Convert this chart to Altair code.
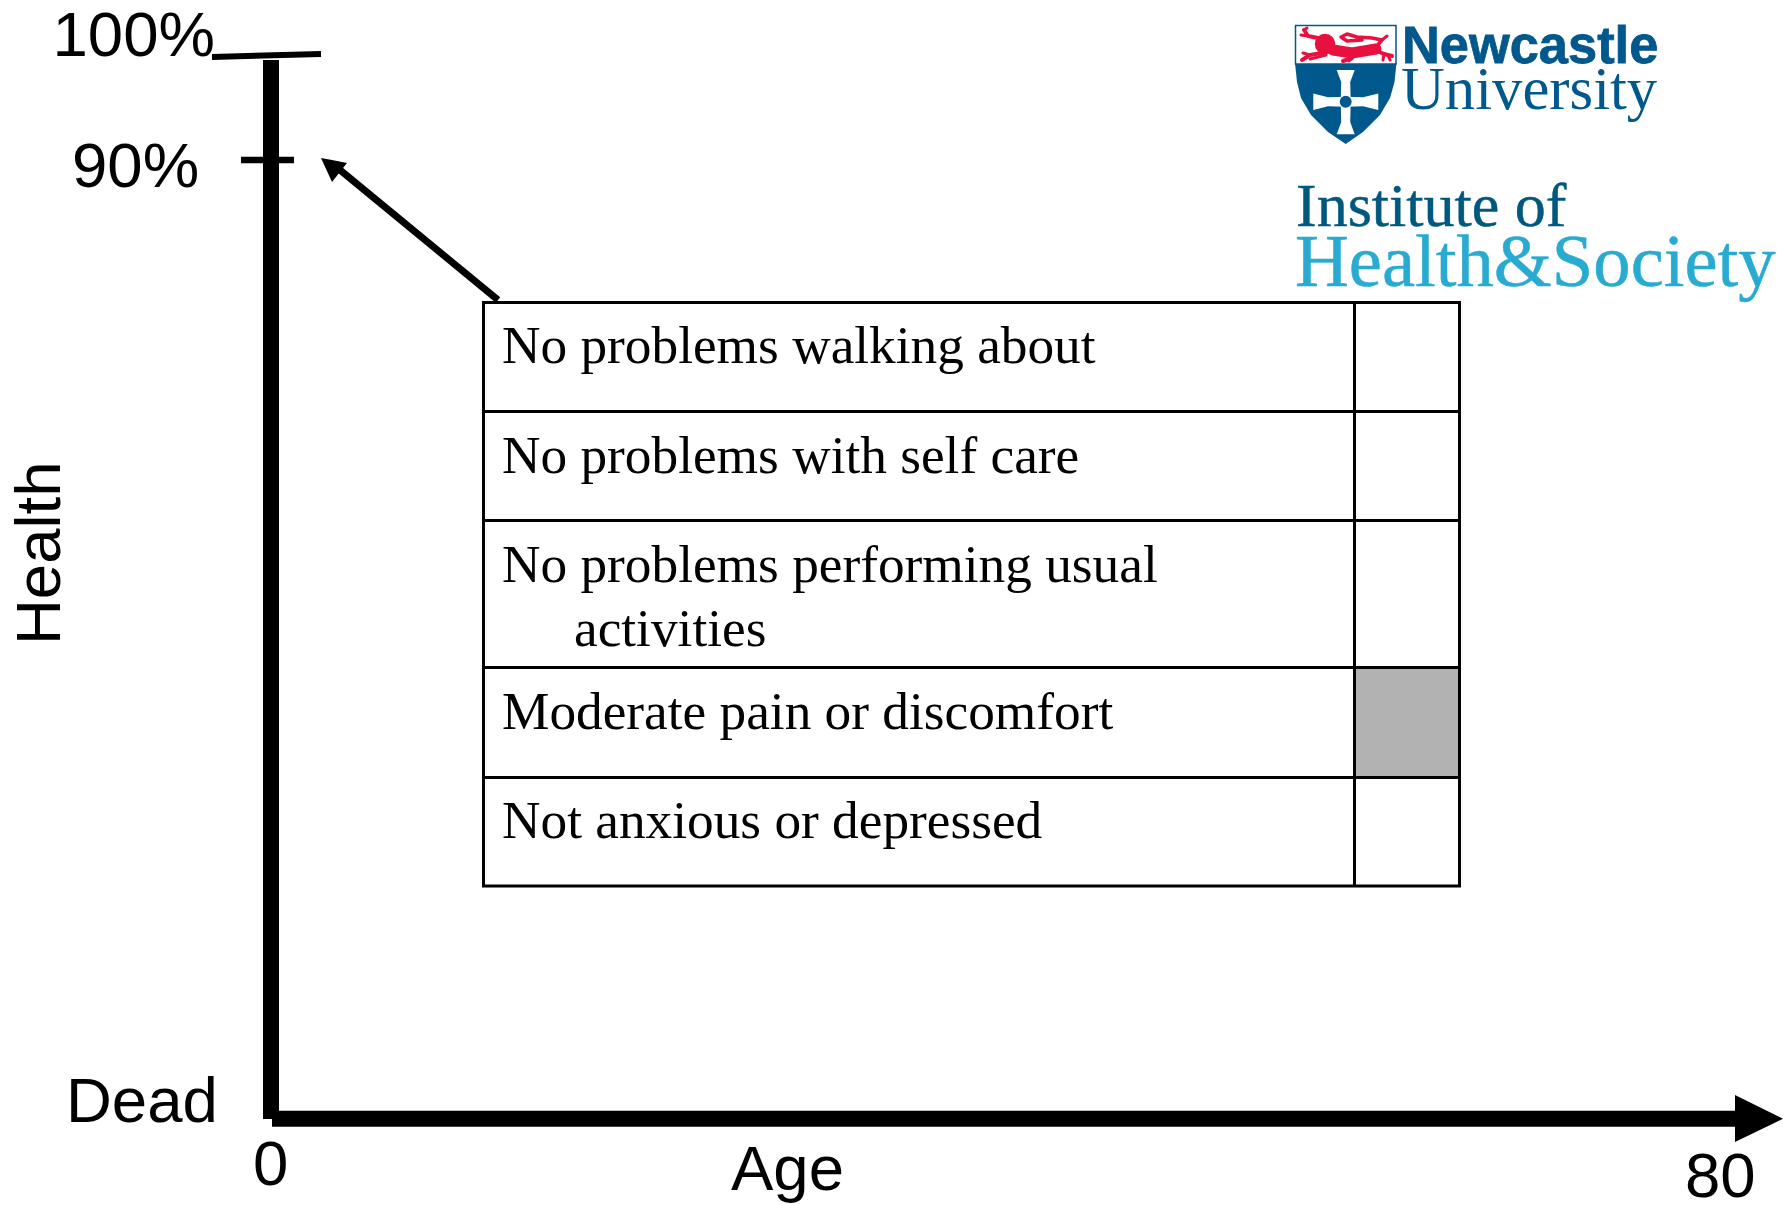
import altair as alt
import pandas as pd

# Reference picture coordinates are used as the chart's own schematic units.
X_DOMAIN = [8, 1784]
Y_DOMAIN = [1205, 8]
xs = alt.Scale(domain=X_DOMAIN, nice=False, zero=False)
ys = alt.Scale(domain=Y_DOMAIN, nice=False, zero=False)

# ---- table
table_rows = ["No problems walking about", "No problems with self care",
              "No problems performing usual", "activities",
              "Moderate pain or discomfort", "Not anxious or depressed"]
table_text_x = [502, 502, 502, 574, 502, 502]
table_text_y = [363, 472.5, 582, 646, 729, 838]
row_lines_y = [302.5, 411.5, 520.5, 667.5, 777.5, 886]
col_lines_x = [483.5, 1354.5, 1459.5]
shaded_cell = dict(x=1354.5, x2=1459.5, y=667.5, y2=777.5)

# ---- axes
segments = pd.DataFrame([
    dict(x=271, x2=271, y=60, y2=1119, w=16),          # health axis
    dict(x=272, x2=1736, y=1118.7, y2=1118.7, w=16),   # age axis
    dict(x=212, x2=321, y=57, y2=54, w=6),             # 100% tick
    dict(x=241, x2=294, y=160, y2=160, w=6.5),         # 90% tick
    dict(x=498, x2=340, y=300, y2=170, w=7),           # arrow shaft
])

sans_labels = ["100%", "90%", "Dead", "0", "Age", "80"]
sans_x = [52.5, 72, 66, 253, 731, 1685]
sans_y = [56, 187, 1122, 1185, 1190, 1197]


def X(f="x"):
    return alt.X(f"{f}:Q", scale=xs, axis=None)


def Y(f="y"):
    return alt.Y(f"{f}:Q", scale=ys, axis=None)


def rules(df):
    return alt.Chart(df).mark_rule(color="black").encode(
        x=X(), x2="x2:Q", y=Y(), y2="y2:Q",
        strokeWidth=alt.StrokeWidth("w:Q", scale=None))


def area_v(x, y, y2, color):
    d = pd.DataFrame(dict(x=x, y=y, y2=y2))
    return alt.Chart(d).mark_area(color=color, opacity=1, interpolate="linear").encode(
        x=X(), y=Y(), y2="y2:Q")


def area_h(y, x, x2, color):
    d = pd.DataFrame(dict(y=y, x=x, x2=x2))
    return alt.Chart(d).mark_area(color=color, opacity=1, orient="horizontal", interpolate="linear").encode(
        y=Y(), x=X(), x2="x2:Q")


def texts(labels, x, y, size, font, color="black", **kw):
    d = pd.DataFrame(dict(t=labels, x=x, y=y))
    return alt.Chart(d).mark_text(align="left", baseline="alphabetic", fontSize=size,
                                  font=font, color=color, **kw).encode(
        x=X(), y=Y(), text="t:N")


def poly(points, width, color):
    d = pd.DataFrame(dict(x=[p[0] for p in points], y=[p[1] for p in points],
                          i=list(range(len(points)))))
    return alt.Chart(d).mark_line(color=color, strokeWidth=width, strokeCap="round",
                                  strokeJoin="round").encode(
        x=X(), y=Y(), order="i:Q")


# ---- arrow heads
age_head = area_v([1735, 1783], [1095, 1118.7], [1142, 1118.7], "black")
pointer_head = area_v([321, 332, 347], [158, 160, 163], [158, 182, 163], "black")

# ---- table marks
shade = alt.Chart(pd.DataFrame([shaded_cell])).mark_rect(color="#b2b2b2").encode(
    x=X(), x2="x2:Q", y=Y(), y2="y2:Q")
h_lines = pd.DataFrame(dict(x=col_lines_x[0] - 1.5, x2=col_lines_x[-1] + 1.5,
                            y=row_lines_y, y2=row_lines_y, w=3))
v_lines = pd.DataFrame(dict(x=col_lines_x, x2=col_lines_x,
                            y=row_lines_y[0], y2=row_lines_y[-1], w=3))

# ---- logo
BLUE = "#00588c"
RED = "#e8103f"
shield_x = [1295, 1297, 1301, 1311, 1328, 1345.7, 1363, 1380, 1390, 1394.5, 1396.5]
shield_bottom = [63, 82, 98, 115, 132, 144, 132, 115, 98, 82, 63]
shield = area_v(shield_x, [63] * len(shield_x), shield_bottom, BLUE)
band = alt.Chart(pd.DataFrame([dict(x=1295.5, x2=1396, y=25.5, y2=64)])).mark_rect(
    color="white", stroke=BLUE, strokeWidth=1.5).encode(x=X(), x2="x2:Q", y=Y(), y2="y2:Q")
cross_y = [70, 82, 101.7, 122, 134.3]
cross_half = [9, 4.5, 5, 4.5, 9]
cross_v = area_h(cross_y, [1345.7 - h for h in cross_half], [1345.7 + h for h in cross_half], "white")
arm_x = [1313.3, 1328, 1345.7, 1363, 1378.3]
arm_half = [8.3, 4.5, 5, 4.5, 8.3]
cross_h = area_v(arm_x, [101.7 - h for h in arm_half], [101.7 + h for h in arm_half], "white")
boss = alt.Chart(pd.DataFrame(dict(x=[1345.7], y=[101.7]))).mark_point(
    filled=True, shape="circle", size=141, color=BLUE, opacity=1).encode(x=X(), y=Y())
lion_head = alt.Chart(pd.DataFrame(dict(x=[1325], y=[44]))).mark_point(
    filled=True, shape="circle", size=420, color=RED, opacity=1).encode(x=X(), y=Y())
lion_parts = [
    ([(1333, 50), (1352, 53), (1376, 49)], 11),
    ([(1376, 47), (1382, 40), (1372, 38), (1357, 37), (1347, 34), (1341, 37), (1347, 41), (1362, 40)], 3.5),
    ([(1382, 40), (1387, 36)], 3),
    ([(1318, 38), (1308, 36), (1304, 30)], 4),
    ([(1308, 36), (1301, 35)], 3),
    ([(1304, 30), (1307, 28)], 3),
    ([(1322, 53), (1310, 55), (1302, 60)], 4),
    ([(1310, 55), (1303, 53)], 3),
    ([(1326, 55), (1310, 59)], 3),
    ([(1347, 54), (1352, 58), (1343, 61)], 4),
    ([(1352, 58), (1349, 61)], 3),
    ([(1375, 50), (1384, 54), (1392, 56)], 4),
    ([(1384, 54), (1383, 60)], 3),
    ([(1388, 55), (1390, 60)], 3),
]
lion = [poly(p, w, RED) for p, w in lion_parts]

layers = [
    shade,
    rules(h_lines), rules(v_lines),
    rules(segments),
    age_head, pointer_head,
    texts(sans_labels, sans_x, sans_y, 63.5, "Liberation Sans"),
    alt.Chart(pd.DataFrame(dict(t=["Health"], x=[60], y=[645]))).mark_text(
        align="left", baseline="alphabetic", fontSize=63.5, font="Liberation Sans",
        color="black", angle=270).encode(x=X(), y=Y(), text="t:N"),
    texts(table_rows, table_text_x, table_text_y, 53.3, "Liberation Serif"),
    shield, band, cross_v, cross_h, boss, lion_head, *lion,
    texts(["Newcastle"], [1402], [63], 52.4, "Liberation Sans", BLUE, fontWeight="bold",
          stroke=BLUE, strokeWidth=0.8),
    texts(["University"], [1401], [108.5], 60.7, "Liberation Serif", BLUE),
    texts(["Institute of"], [1296], [226], 62, "Liberation Serif", "#00587f",
          stroke="#00587f", strokeWidth=0.5),
    texts(["Health&Society"], [1295], [286], 74.6, "Liberation Serif", "#29abd1",
          stroke="#29abd1", strokeWidth=0.5),
]

chart = alt.layer(*layers).properties(
    width=1776, height=1197, padding=0,
    autosize=alt.AutoSizeParams(type="none"),
).configure_view(stroke=None)

chart.save("out.html", embed_options={"renderer": "svg", "actions": False})
